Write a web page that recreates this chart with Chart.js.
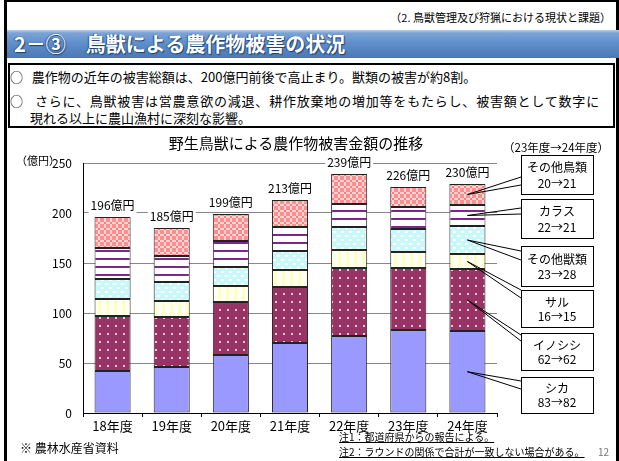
<!DOCTYPE html>
<html>
<head>
<meta charset="utf-8">
<script src="https://cdn.jsdelivr.net/npm/chart.js@4"></script>
<style>
  body { margin: 0; }
  #page {
    position: relative; width: 619px; height: 461px; overflow: hidden;
    background: #fff; font-family: "Noto Sans CJK JP", sans-serif; color: #000;
  }
  .abs { position: absolute; white-space: nowrap; }
  #frame { left: 4px; top: 0; width: 609px; height: 480px; border: 3px solid #000; border-top-width: 2px; }
  #section { right: 8px; top: 10px; font-size: 11px; line-height: 14px; }
  #band {
    left: 7px; top: 30px; width: 612px; height: 28px;
    background: linear-gradient(#b9d0ec 0px, #7ba3d6 3px, #5e8dca 14px, #4a79b6 28px);
  }
  #heading {
    left: 14px; top: 30px; font-size: 20px; line-height: 28px; font-weight: bold; color: #fff;
    text-shadow: 1px 1px 1px #1d3f6e, -1px 0 1px #2d5488;
  }
  #note { left: 8px; top: 63px; width: 603px; height: 61px; border: 2px solid #000; }
  .line { font-size: 13px; line-height: 16px; }
  #chartBox { left: 0; top: 130px; width: 619px; height: 310px; }
  #title { left: 0; top: 134px; width: 592px; text-align: center; font-size: 15px; line-height: 18px; }
  #unit { left: 16px; top: 153px; font-size: 11px; line-height: 14px; }
  #period { left: 503px; top: 140px; font-size: 11.5px; line-height: 14px; }
  #source { left: 20px; top: 440px; font-size: 12px; line-height: 15px; }
  .foot { left: 339px; font-size: 10px; line-height: 12px; text-decoration: underline; }
  #pageNo { left: 598px; top: 446px; font-size: 10px; line-height: 12px; color: #777; }
</style>
</head>
<body>
<div id="page">
  <div class="abs" id="frame"></div>
  <div class="abs" id="section">（2. 鳥獣管理及び狩猟における現状と課題）</div>
  <div class="abs" id="band"></div>
  <div class="abs" id="heading">2－③　鳥獣による農作物被害の状況</div>
  <div class="abs" id="note"></div>
  <div class="abs line" style="left:10px; top:69px;">○&nbsp;&nbsp;&nbsp;農作物の近年の被害総額は、200億円前後で高止まり。獣類の被害が約8割。</div>
  <div class="abs line" style="left:10px; top:93px; letter-spacing:0.8px;">○&nbsp;&nbsp;&nbsp;さらに、鳥獣被害は営農意欲の減退、耕作放棄地の増加等をもたらし、被害額として数字に</div>
  <div class="abs line" style="left:30px; top:110px;">現れる以上に農山漁村に深刻な影響。</div>

  <div class="abs" id="chartBox"><canvas id="damageChart"></canvas></div>
  <div class="abs" id="title">野生鳥獣による農作物被害金額の推移</div>
  <div class="abs" id="unit">（億円）</div>
  <div class="abs" id="period">（23年度→24年度）</div>

  <div class="abs" id="source">※ 農林水産省資料</div>
  <div class="abs foot" style="top:431px;">注1：都道府県からの報告による。</div>
  <div class="abs foot" style="top:446px;">注2：ラウンドの関係で合計が一致しない場合がある。</div>
  <div class="abs" id="pageNo">12</div>
</div>

<script>
// 被害金額（億円）
const years = ["18年度", "19年度", "20年度", "21年度", "22年度", "23年度", "24年度"];
const shika = [42, 46, 58, 70, 77, 83, 82];
const inoshishi = [55, 50, 53, 56, 68, 62, 62];
const saru = [17, 16, 16, 17, 18, 16, 15];
const otherBeasts = [20, 19, 19, 19, 23, 23, 28];
const karasu = [31, 26, 26, 24, 23, 22, 21];
const otherBirds = [31, 28, 27, 27, 30, 20, 21];
const totals = [196, 185, 199, 213, 239, 226, 230];
const yTicks = [0, 50, 100, 150, 200, 250];

const FONT = '"Noto Sans CJK JP", sans-serif';

// fill patterns like the office chart hatches
const makePattern = (w, h, draw) => {
  const c = document.createElement("canvas");
  c.width = w; c.height = h;
  const p = c.getContext("2d");
  draw(p);
  return p.createPattern(c, "repeat");
};

const fills = {
  shika: "#9999ff",
  inoshishi: makePattern(8, 8, (p) => {
    p.fillStyle = "#993366"; p.fillRect(0, 0, 8, 8);
    p.fillStyle = "#e9c9da"; p.fillRect(3, 3, 2, 2);
  }),
  saru: makePattern(8, 4, (p) => {
    p.fillStyle = "#fffff4"; p.fillRect(0, 0, 8, 4);
    p.fillStyle = "#ffffc4"; p.fillRect(2, 0, 3, 4);
  }),
  otherBeasts: makePattern(8, 8, (p) => {
    p.fillStyle = "#c8f8fa"; p.fillRect(0, 0, 8, 8);
    p.fillStyle = "#ffffff"; p.fillRect(1, 1, 3, 2); p.fillRect(5, 5, 3, 2);
  }),
  karasu: makePattern(4, 8, (p) => {
    p.fillStyle = "#ffffff"; p.fillRect(0, 0, 4, 8);
    p.fillStyle = "#7a2a86"; p.fillRect(0, 0, 4, 2);
  }),
  otherBirds: makePattern(6, 6, (p) => {
    p.fillStyle = "#ff8f8f"; p.fillRect(0, 0, 6, 6);
    p.fillStyle = "#ffd4d4";
    p.fillRect(2, 0, 2, 6); p.fillRect(0, 2, 6, 2);
    p.fillStyle = "#ff7a7a"; p.fillRect(2, 2, 2, 2);
  }),
};

const series = [
  { label: "シカ", data: shika, fill: fills.shika },
  { label: "イノシシ", data: inoshishi, fill: fills.inoshishi },
  { label: "サル", data: saru, fill: fills.saru },
  { label: "その他獣類", data: otherBeasts, fill: fills.otherBeasts },
  { label: "カラス", data: karasu, fill: fills.karasu },
  { label: "その他鳥類", data: otherBirds, fill: fills.otherBirds },
];

// callout boxes on the right (canvas coords), top to bottom
const callouts = [
  { ds: 5, top: 25, h: 39, hit: [22, 30] },
  { ds: 4, top: 69, h: 39, hit: [9, 15] },
  { ds: 3, top: 116, h: 40, hit: [5, 14] },
  { ds: 2, top: 160, h: 37, hit: [0, 8] },
  { ds: 1, top: 203, h: 37, hit: [2, 8] },
  { ds: 0, top: 247, h: 36, hit: [4, 12] },
];

const labelsPlugin = {
  id: "labels",
  afterDatasetsDraw(chart) {
    const ctx = chart.ctx;
    const x = chart.scales.x, y = chart.scales.y;
    ctx.save();
    ctx.font = "12px " + FONT;
    ctx.textAlign = "center";
    ctx.textBaseline = "middle";
    // totals above bars
    years.forEach((_, i) => {
      const stackTop = series.reduce((s, d) => s + d.data[i], 0);
      const px = x.getPixelForValue(i);
      const py = y.getPixelForValue(stackTop) - 12;
      const txt = totals[i] + "億円";
      const w = ctx.measureText(txt).width + 4;
      ctx.fillStyle = "#fff";
      ctx.fillRect(px - w / 2, py - 8, w, 16);
      ctx.fillStyle = "#000";
      ctx.fillText(txt, px, py);
    });
    // callouts for the last two years
    const last = years.length - 1;
    const bx = 521, bw = 72;
    callouts.forEach((c) => {
      const meta = chart.getDatasetMeta(c.ds).data[last];
      const ax = meta.x;
      const ay = (meta.y + meta.base) / 2;
      ctx.strokeStyle = "#000";
      ctx.lineWidth = 1;
      ctx.beginPath();
      ctx.moveTo(bx, c.top + c.hit[0]);
      ctx.lineTo(ax, ay);
      ctx.lineTo(bx, c.top + c.hit[1]);
      ctx.stroke();
      ctx.fillStyle = "#fff";
      ctx.fillRect(bx, c.top, bw, c.h);
      ctx.strokeRect(bx + 0.5, c.top + 0.5, bw, c.h);
      ctx.fillStyle = "#000";
      const s = series[c.ds];
      ctx.fillText(s.label, bx + bw / 2, c.top + c.h * 0.33);
      ctx.fillText(s.data[last - 1] + "→" + s.data[last], bx + bw / 2, c.top + c.h * 0.72);
    });
    ctx.restore();
  },
};

new Chart(document.getElementById("damageChart"), {
  type: "bar",
  data: {
    labels: years,
    datasets: series.map((s) => ({
      label: s.label,
      data: s.data,
      backgroundColor: s.fill,
      borderColor: "#222",
      borderWidth: 1,
      borderSkipped: false,
      categoryPercentage: 1,
      barPercentage: 0.61,
    })),
  },
  options: {
    responsive: true,
    maintainAspectRatio: false,
    animation: false,
    layout: { padding: { top: 33, right: 122, left: 0, bottom: 0 } },
    plugins: { legend: { display: false }, tooltip: { enabled: false } },
    scales: {
      x: {
        stacked: true,
        grid: { drawOnChartArea: false, drawTicks: true, tickLength: 4, color: "#000", offset: true },
        border: { color: "#000" },
        ticks: { color: "#000", font: { family: FONT, size: 13 }, padding: 1 },
        afterFit: (s) => { s.height = 27; },
      },
      y: {
        stacked: true,
        min: 0,
        max: 250,
        grid: { color: "#888", drawTicks: false },
        border: { color: "#000" },
        afterBuildTicks: (s) => { s.ticks = yTicks.map((v) => ({ value: v })); },
        ticks: { color: "#000", font: { family: FONT, size: 12 }, padding: 11 },
        afterFit: (s) => { s.width = 83; },
      },
    },
  },
  plugins: [labelsPlugin],
});
</script>
</body>
</html>
